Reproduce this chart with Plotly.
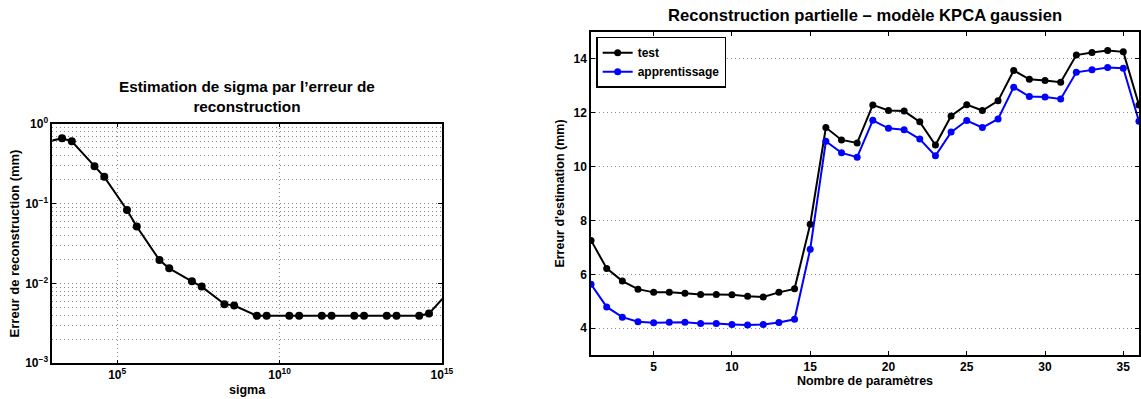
import plotly.graph_objects as go

# ---- Left chart data: reconstruction error vs sigma ----
sigma = [4e2, 2e3, 4e3, 2e4, 4e4, 2e5, 4e5, 2e6, 4e6, 2e7, 4e7, 2e8, 4e8,
         2e9, 4e9, 2e10, 4e10, 2e11, 4e11, 2e12, 4e12, 2e13, 4e13,
         2e14, 4e14, 2e15]
erreur_recon = [0.565, 0.656, 0.602, 0.294, 0.216, 0.0832, 0.0515, 0.0196, 0.01545,
                0.01063, 0.00912, 0.0055, 0.00529,
                0.00393, 0.00393, 0.00393, 0.00393, 0.00393, 0.00393, 0.00393, 0.00393,
                0.00393, 0.00393, 0.00395, 0.00419, 0.00865]
left_xtick_vals = [1e5, 1e10, 1e15]
left_xtick_text = ["10<sup>5</sup>", "10<sup>10</sup>", "10<sup>15</sup>"]
left_ytick_vals = [1e-3, 1e-2, 1e-1, 1]
left_ytick_text = ["10<sup>−3</sup>", "10<sup>−2</sup>", "10<sup>−1</sup>", "10<sup>0</sup>"]

# ---- Right chart data: partial reconstruction ----
nb_params = list(range(1, 37))
test = [7.26, 6.22, 5.75, 5.45, 5.33, 5.33, 5.30, 5.25, 5.25, 5.24, 5.19, 5.16, 5.33, 5.46,
        7.86, 11.45, 10.99, 10.88, 12.29, 12.08, 12.06, 11.66, 10.80, 11.88, 12.30, 12.08,
        12.44, 13.57, 13.24, 13.20, 13.13, 14.14, 14.24, 14.31, 14.26, 12.29]
apprentissage = [5.63, 4.79, 4.41, 4.24, 4.20, 4.22, 4.22, 4.17, 4.17, 4.14, 4.12, 4.14, 4.21, 4.33,
                 6.93, 10.94, 10.51, 10.35, 11.72, 11.42, 11.37, 11.02, 10.40, 11.28, 11.71, 11.45,
                 11.77, 12.95, 12.60, 12.58, 12.51, 13.50, 13.60, 13.68, 13.65, 11.68]
right_xtick_vals = [5, 10, 15, 20, 25, 30, 35]
right_ytick_vals = [4, 6, 8, 10, 12, 14]

FONT = "Liberation Sans"
tickfont = dict(family=FONT, size=12, color="black", weight="bold")
titlefont = dict(family=FONT, size=12.5, color="black", weight="bold")
DOT = "1px,3px"
GRIDC = "#8a8a8a"

fig = go.Figure()

fig.add_trace(go.Scatter(
    x=sigma, y=erreur_recon, mode="lines+markers",
    line=dict(color="black", width=2),
    marker=dict(color="black", size=8, symbol="circle"),
    showlegend=False, xaxis="x", yaxis="y", cliponaxis=True,
))

fig.add_trace(go.Scatter(
    x=nb_params, y=test, mode="lines+markers", name="test",
    line=dict(color="black", width=2),
    marker=dict(color="black", size=7, symbol="circle"),
    xaxis="x2", yaxis="y2",
))
fig.add_trace(go.Scatter(
    x=nb_params, y=apprentissage, mode="lines+markers", name="apprentissage",
    line=dict(color="#0000ff", width=2),
    marker=dict(color="#0000ff", size=7, symbol="circle"),
    xaxis="x2", yaxis="y2",
))

axis_common = dict(
    showline=True, linecolor="black", linewidth=1.5, mirror="ticks",
    ticks="inside", ticklen=4, tickcolor="black", tickwidth=1,
    tickfont=tickfont, zeroline=False, automargin=False,
)

fig.update_layout(
    width=1141, height=399,
    margin=dict(l=0, r=0, t=0, b=0),
    paper_bgcolor="white", plot_bgcolor="white",
    font=dict(family=FONT, color="black"),
    xaxis=dict(
        type="log", range=[3, 15], domain=[0.0458, 0.3873],
        tickvals=left_xtick_vals, ticktext=left_xtick_text,
        showgrid=True, gridcolor=GRIDC, griddash=DOT, gridwidth=1,
        title=dict(text="sigma", font=titlefont, standoff=4),
        anchor="y", **axis_common,
    ),
    yaxis=dict(
        type="log", range=[-3, 0], domain=[0.0895, 0.690],
        tickvals=left_ytick_vals, ticktext=left_ytick_text,
        showgrid=True, gridcolor=GRIDC, griddash=DOT, gridwidth=1,
        minor=dict(dtick="D1", showgrid=True, gridcolor=GRIDC, griddash=DOT,
                   gridwidth=1, ticks=""),
        title=dict(text="Erreur de reconstruction (mm)",
                   font=dict(family=FONT, size=13, color="black", weight="bold"), standoff=3),
        anchor="x", **axis_common,
    ),
    xaxis2=dict(
        range=[1, 36], domain=[0.518, 0.9982],
        tickvals=right_xtick_vals, showgrid=False,
        title=dict(text="Nombre de paramètres", font=titlefont, standoff=0),
        anchor="y2", **axis_common,
    ),
    yaxis2=dict(
        range=[3, 15], domain=[0.110, 0.920],
        tickvals=right_ytick_vals,
        showgrid=True, gridcolor=GRIDC, griddash=DOT, gridwidth=1,
        title=dict(text="Erreur d'estimation (mm)", font=titlefont, standoff=6),
        anchor="x2", **axis_common,
    ),
    legend=dict(
        x=0.5225, y=0.908, xanchor="left", yanchor="top",
        bordercolor="black", borderwidth=1.5, bgcolor="white",
        font=dict(family=FONT, size=12, color="black", weight="bold"),
        tracegroupgap=0, itemwidth=30,
    ),
    annotations=[
        dict(text="Estimation de sigma par l’erreur de<br>reconstruction",
             x=0.2165, y=0.757, xref="paper", yref="paper",
             xanchor="center", yanchor="middle", showarrow=False,
             font=dict(family=FONT, size=15.3, color="black", weight="bold")),
        dict(text="Reconstruction partielle – modèle KPCA gaussien",
             x=0.758, y=0.960, xref="paper", yref="paper",
             xanchor="center", yanchor="middle", showarrow=False,
             font=dict(family=FONT, size=16.6, color="black", weight="bold")),
    ],
)

fig.write_html("out.html",
               config={"displayModeBar": False},
               post_script="document.body.style.margin='0';document.body.style.padding='0';")
